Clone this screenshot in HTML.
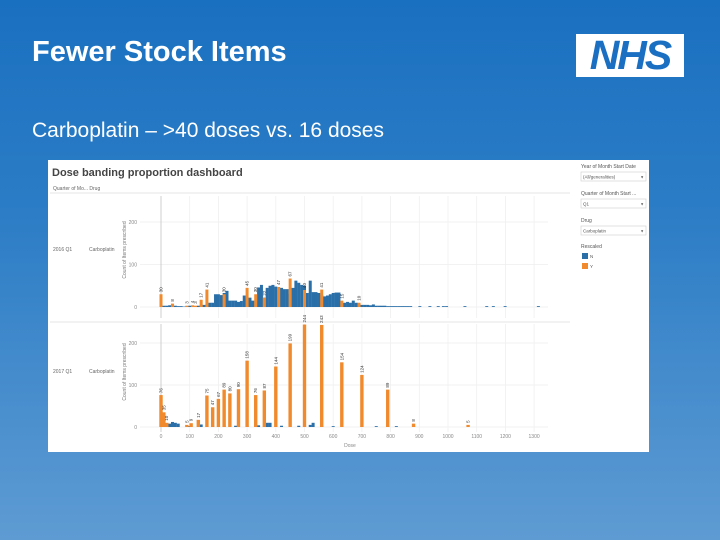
<!DOCTYPE html>
<html><head><meta charset="utf-8"><style>
body{margin:0;width:720px;height:540px;overflow:hidden;font-family:"Liberation Sans",sans-serif;}
#slide{position:relative;width:720px;height:540px;background:linear-gradient(180deg,#1a70c0 0%,#2c7dc6 40%,#5e9bd3 100%);}
.t{position:absolute;color:#fff;}
</style></head><body>
<div id="slide">
<div class="t" style="left:32px;top:36px;font-size:29px;font-weight:bold;">Fewer Stock Items</div>
<div class="t" style="left:32px;top:119px;font-size:21px;">Carboplatin – &gt;40 doses vs. 16 doses</div>
<div style="position:absolute;left:576px;top:34px;width:108px;height:43px;background:#fff;color:#1a6fc2;font-weight:bold;font-style:italic;font-size:41px;line-height:43px;text-align:center;letter-spacing:-2px;">NHS</div>
<div style="position:absolute;left:48px;top:160px;width:601px;height:292px;background:#fff;"></div>
<svg id="chart" width="720" height="540" style="position:absolute;left:0;top:0"></svg>
</div>
<script>
const blueTopDoses=[0,10,20,30,40,50,60,70,80,90,100,110,120,130,140,150,160,170,180,190,200,210,220,230,240,250,260,270,280,290,300,310,320,330,340,350,360,370,380,390,400,410,420,430,440,450,460,470,480,490,500,510,520,530,540,550,560,570,580,590,600,610,620,630,640,650,660,670,680,690,700,710,720,730,740,750,760,770,780,790,800,810,820,830,840,850,860,870,902,937,966,984,995,1059,1135,1158,1199,1315];
const blueTopVals=[12,3,3,4,3,3,2,2,1,2,3,2,2,3,4,5,6,10,10,30,30,28,33,38,15,15,15,12,14,27,20,22,15,14,46,52,22,45,50,52,48,40,45,42,42,30,45,62,57,52,50,33,62,35,35,33,28,25,27,30,33,34,34,10,10,12,10,15,10,8,5,5,5,4,6,3,3,3,3,2,2,2,2,2,2,2,2,2,2,2,2,2,2,2,2,2,2,2];
const orangeTopDoses=[0,40,90,110,120,140,160,220,300,330,360,410,450,500,560,630,690];
const orangeTopVals=[30,8,3,4,3,17,41,30,45,30,22,47,67,40,41,15,10];
const blueBotDoses=[0,10,20,30,40,50,60,100,140,180,220,260,300,340,370,380,420,480,520,530,560,600,700,750,790,820,880];
const blueBotVals=[22,10,5,8,12,10,8,2,6,5,3,3,3,4,10,10,3,3,5,10,3,2,2,2,3,2,3];
const orangeBotDoses=[0,10,20,90,105,130,160,180,200,220,240,270,300,330,360,400,450,500,560,630,700,790,880,1070];
const orangeBotVals=[76,35,10,5,9,17,75,47,67,89,80,90,158,76,87,144,199,244,243,154,124,89,8,5];
const xTicks=[0,100,200,300,400,500,600,700,800,900,1000,1100,1200,1300];
const yTicks=[0,100,200];
const svg=document.getElementById('chart');
const NS='http://www.w3.org/2000/svg';
function xs(d){return 161+d*0.287;}
const panels=[{base:307,k:0.425},{base:427,k:0.42}];
function ys(p,v){return panels[p].base-v*panels[p].k;}
function mk(tag,attrs,txt){const e=document.createElementNS(NS,tag);for(const a in attrs)e.setAttribute(a,attrs[a]);if(txt!==undefined)e.textContent=txt;svg.appendChild(e);return e;}
let e=mk('text',{x:52,y:176,'font-size':11,'font-weight':'bold',fill:'#444'},'Dose banding proportion dashboard');


e=mk('text',{x:53,y:190,'font-size':5,fill:'#666'},'Quarter of Mo...   Drug');


mk('line',{x1:50,y1:193,x2:570,y2:193,stroke:'#ddd','stroke-width':0.7});
mk('line',{x1:50,y1:322,x2:570,y2:322,stroke:'#ddd','stroke-width':0.7});
const rows=[['2016 Q1',251],['2017 Q1',373]];
rows.forEach((r,i)=>{
 e=mk('text',{x:53,y:r[1],'font-size':5,fill:'#666'},r[0]);
 
 
 e=mk('text',{x:89,y:r[1],'font-size':5,fill:'#666'},'Carboplatin');
 
 
 const cy=i===0?250:372;
 e=mk('text',{x:0,y:0,'font-size':5,fill:'#777',transform:`translate(126,${cy}) rotate(-90)`,'text-anchor':'middle'},'Count of Items prescribed');
 
 
});
panels.forEach((p,pi)=>{
 yTicks.forEach(t=>{
  mk('line',{x1:140,y1:ys(pi,t),x2:548,y2:ys(pi,t),stroke:'#eee','stroke-width':0.7});
  e=mk('text',{x:137,y:ys(pi,t)+2,'font-size':5,fill:'#888','text-anchor':'end'},t);
  
  
 });
 const top=pi===0?196:324, bot=pi===0?318:432;
 xTicks.forEach(t=>mk('line',{x1:xs(t),y1:top,x2:xs(t),y2:bot,stroke:t===0?'#bbb':'#eee','stroke-width':0.7}));
});
xTicks.forEach(t=>{
 e=mk('text',{x:xs(t),y:438,'font-size':5,fill:'#888','text-anchor':'middle'},t);
 
 
});
e=mk('text',{x:350,y:447,'font-size':5,fill:'#888','text-anchor':'middle'},'Dose');


function bars(p,doses,vals,col,name,labels,w){
 doses.forEach((d,i)=>{
  const y=ys(p,vals[i]);
  const r=mk('rect',{x:xs(d)-w/2,y:y,width:w,height:panels[p].base-y,fill:col});
  
  
  if(labels){
   const t=mk('text',{x:0,y:0,'font-size':4.5,fill:'#333',transform:`translate(${xs(d)+1.5},${y-2}) rotate(-90)`},vals[i]);
   
   
  }
 });
}
bars(0,blueTopDoses,blueTopVals,'#2a6fa8','bar-2016-n',false,3);
bars(0,orangeTopDoses,orangeTopVals,'#f08a2c','bar-2016-y',true,3);
bars(1,blueBotDoses,blueBotVals,'#2a6fa8','bar-2017-n',false,3);
bars(1,orangeBotDoses,orangeBotVals,'#f08a2c','bar-2017-y',true,3.4);
const filters=[['Year of Month Start Date',168,'(All/generalities)'],['Quarter of Month Start ...',195,'Q1'],['Drug',222,'Carboplatin']];
filters.forEach(f=>{
 e=mk('text',{x:581,y:f[1],'font-size':5,fill:'#555'},f[0]);
 
 
 e=mk('rect',{x:581,y:f[1]+4,width:65,height:9,fill:'#fff',stroke:'#ccc','stroke-width':0.6});
 
 
 mk('text',{x:583,y:f[1]+10.5,'font-size':4.5,fill:'#555'},f[2]);
 mk('text',{x:641,y:f[1]+10.5,'font-size':4.5,fill:'#555'},'▾');
});
e=mk('text',{x:581,y:248,'font-size':5,fill:'#555'},'Rescaled');


[['N','#2a6fa8',253],['Y','#f08a2c',263]].forEach(l=>{
 e=mk('rect',{x:582,y:l[2],width:6,height:6,fill:l[1]});
 
 
 e=mk('text',{x:590,y:l[2]+5,'font-size':4.5,fill:'#555'},l[0]);
 
 
});
</script>
</body></html>
